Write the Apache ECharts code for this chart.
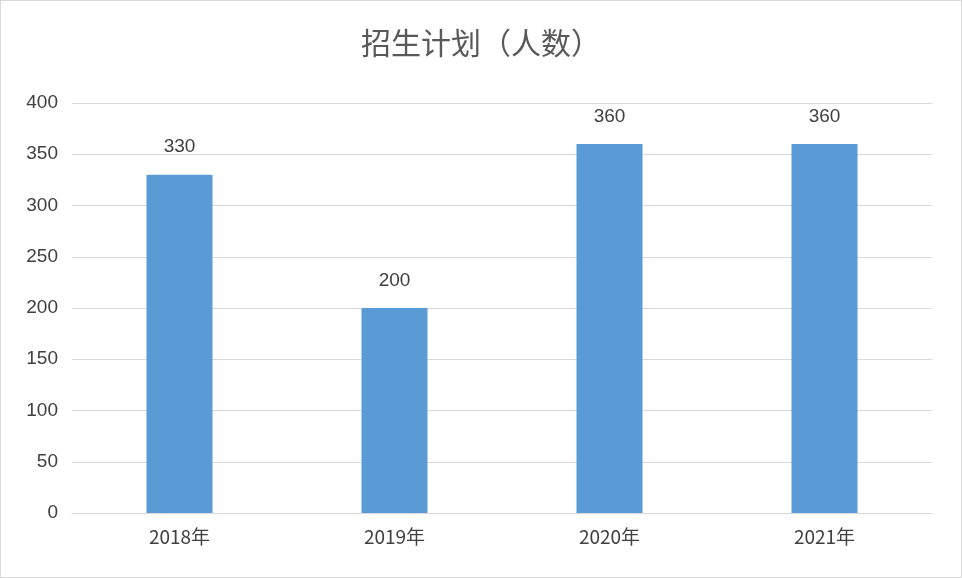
<!DOCTYPE html>
<html>
<head>
<meta charset="utf-8">
<script src="https://cdn.jsdelivr.net/npm/echarts@6/dist/echarts.min.js"></script>
<style>
  html, body { margin: 0; padding: 0; background: #fff; }
  #chart { width: 960px; height: 576px; border: 1px solid #d9d9d9; }
</style>
</head>
<body>
<div id="chart"></div>
<script>
const years = ['2018年', '2019年', '2020年', '2021年']
const plan = [330, 200, 360, 360]
const yTicks = { min: 0, max: 400, step: 50 }

const chart = echarts.init(document.getElementById('chart'))
chart.setOption({
  animation: false,
  title: {
    text: '招生计划（人数）',
    left: 'center',
    top: 22,
    textStyle: { fontFamily: 'Noto Sans CJK SC', fontSize: 30, fontWeight: 'normal', color: '#595959' }
  },
  grid: { left: 71, right: 29, top: 102, bottom: 64 },
  xAxis: {
    type: 'category',
    data: years,
    axisLine: { lineStyle: { color: '#d9d9d9' } },
    axisTick: { show: false },
    axisLabel: { color: '#404040', fontSize: 19, margin: 14, fontFamily: 'Noto Sans CJK SC' }
  },
  yAxis: {
    type: 'value',
    min: yTicks.min,
    max: yTicks.max,
    interval: yTicks.step,
    axisLine: { show: false },
    axisTick: { show: false },
    splitLine: { lineStyle: { color: '#d9d9d9' } },
    axisLabel: { color: '#404040', fontSize: 19, margin: 14 }
  },
  series: [{
    type: 'bar',
    data: plan,
    barWidth: 66,
    itemStyle: { color: '#5b9bd5' },
    label: { show: true, position: 'top', distance: 18, color: '#404040', fontSize: 19 }
  }]
})
</script>
</body>
</html>
